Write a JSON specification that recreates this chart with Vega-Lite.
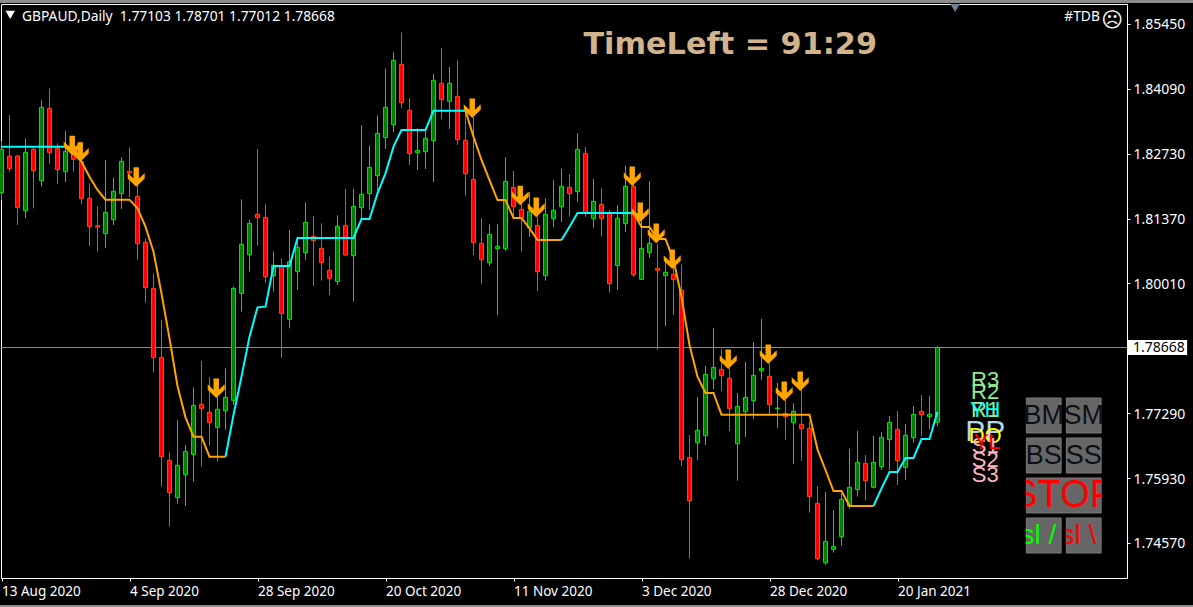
{"$schema":"https://vega.github.io/schema/vega-lite/v6.json","width":1126,"height":574,"autosize":"none","padding":{"left":1,"top":4,"right":66,"bottom":29},"background":"#000000","config":{"view":{"stroke":"#ffffff","fill":"#000000","strokeWidth":1}},
"datasets":{
"candles":[
{"i":0,"d":"2020-08-13","dir":"up","o":1.81914,"h":1.82997,"l":1.8176,"c":1.82822},
{"i":1,"d":"2020-08-14","dir":"down","o":1.82683,"h":1.83542,"l":1.82354,"c":1.82417},
{"i":2,"d":"2020-08-17","dir":"down","o":1.82683,"h":1.82704,"l":1.81236,"c":1.81606},
{"i":3,"d":"2020-08-18","dir":"up","o":1.81537,"h":1.83053,"l":1.81376,"c":1.82759},
{"i":4,"d":"2020-08-19","dir":"down","o":1.82822,"h":1.82878,"l":1.81585,"c":1.82375},
{"i":5,"d":"2020-08-20","dir":"up","o":1.82165,"h":1.83857,"l":1.8204,"c":1.83703},
{"i":6,"d":"2020-08-21","dir":"down","o":1.83682,"h":1.84101,"l":1.82515,"c":1.82752},
{"i":7,"d":"2020-08-24","dir":"down","o":1.82843,"h":1.82948,"l":1.82096,"c":1.82396},
{"i":8,"d":"2020-08-25","dir":"up","o":1.82354,"h":1.83207,"l":1.82138,"c":1.8278},
{"i":9,"d":"2020-08-26","dir":"down","o":1.82878,"h":1.82948,"l":1.82354,"c":1.82613},
{"i":10,"d":"2020-08-27","dir":"down","o":1.82564,"h":1.82599,"l":1.81676,"c":1.81788},
{"i":11,"d":"2020-08-28","dir":"down","o":1.81795,"h":1.8211,"l":1.80796,"c":1.81201},
{"i":12,"d":"2020-08-31","dir":"down","o":1.81222,"h":1.81634,"l":1.80677,"c":1.81194},
{"i":13,"d":"2020-09-01","dir":"up","o":1.81054,"h":1.82599,"l":1.80754,"c":1.81502},
{"i":14,"d":"2020-09-02","dir":"up","o":1.81348,"h":1.82235,"l":1.81236,"c":1.81942},
{"i":15,"d":"2020-09-03","dir":"up","o":1.81893,"h":1.82655,"l":1.81572,"c":1.82571},
{"i":16,"d":"2020-09-04","dir":"down","o":1.82361,"h":1.82864,"l":1.81816,"c":1.82326},
{"i":17,"d":"2020-09-07","dir":"down","o":1.81837,"h":1.82075,"l":1.80502,"c":1.80845},
{"i":18,"d":"2020-09-08","dir":"down","o":1.80873,"h":1.80957,"l":1.79608,"c":1.79922},
{"i":19,"d":"2020-09-09","dir":"down","o":1.79908,"h":1.80223,"l":1.7814,"c":1.78455},
{"i":20,"d":"2020-09-10","dir":"down","o":1.78462,"h":1.79245,"l":1.75751,"c":1.76379},
{"i":21,"d":"2020-09-11","dir":"down","o":1.76303,"h":1.7647,"l":1.74912,"c":1.75625},
{"i":22,"d":"2020-09-14","dir":"up","o":1.7552,"h":1.77148,"l":1.75394,"c":1.76198},
{"i":23,"d":"2020-09-15","dir":"up","o":1.76002,"h":1.76624,"l":1.75345,"c":1.76491},
{"i":24,"d":"2020-09-16","dir":"up","o":1.76428,"h":1.77833,"l":1.75855,"c":1.77456},
{"i":25,"d":"2020-09-17","dir":"down","o":1.77477,"h":1.78385,"l":1.7617,"c":1.77386},
{"i":26,"d":"2020-09-18","dir":"down","o":1.77309,"h":1.78043,"l":1.7661,"c":1.77092},
{"i":27,"d":"2020-09-21","dir":"up","o":1.76994,"h":1.77637,"l":1.76289,"c":1.77372},
{"i":28,"d":"2020-09-22","dir":"up","o":1.77344,"h":1.78231,"l":1.76946,"c":1.77623},
{"i":29,"d":"2020-09-23","dir":"up","o":1.7756,"h":1.79943,"l":1.77463,"c":1.79908},
{"i":30,"d":"2020-09-24","dir":"up","o":1.79803,"h":1.81774,"l":1.79419,"c":1.80831},
{"i":31,"d":"2020-09-25","dir":"up","o":1.80614,"h":1.81341,"l":1.80258,"c":1.81271},
{"i":32,"d":"2020-09-28","dir":"down","o":1.8146,"h":1.82829,"l":1.80803,"c":1.8139},
{"i":33,"d":"2020-09-29","dir":"down","o":1.81397,"h":1.81676,"l":1.80027,"c":1.80153},
{"i":34,"d":"2020-09-30","dir":"up","o":1.80174,"h":1.80684,"l":1.79838,"c":1.80391},
{"i":35,"d":"2020-10-01","dir":"down","o":1.80377,"h":1.80537,"l":1.78455,"c":1.79384},
{"i":36,"d":"2020-10-02","dir":"up","o":1.79258,"h":1.81131,"l":1.7907,"c":1.80467},
{"i":37,"d":"2020-10-05","dir":"up","o":1.80258,"h":1.80992,"l":1.79873,"c":1.80768},
{"i":38,"d":"2020-10-06","dir":"up","o":1.80656,"h":1.81711,"l":1.80502,"c":1.81292},
{"i":39,"d":"2020-10-07","dir":"down","o":1.80998,"h":1.81425,"l":1.79957,"c":1.80908},
{"i":40,"d":"2020-10-08","dir":"down","o":1.80747,"h":1.81271,"l":1.80069,"c":1.80446},
{"i":41,"d":"2020-10-09","dir":"down","o":1.80286,"h":1.80572,"l":1.79769,"c":1.80118},
{"i":42,"d":"2020-10-12","dir":"up","o":1.80048,"h":1.81439,"l":1.79978,"c":1.81208},
{"i":43,"d":"2020-10-13","dir":"down","o":1.81229,"h":1.81991,"l":1.80586,"c":1.80607},
{"i":44,"d":"2020-10-14","dir":"up","o":1.80593,"h":1.81991,"l":1.79629,"c":1.81627},
{"i":45,"d":"2020-10-15","dir":"up","o":1.81599,"h":1.83326,"l":1.81362,"c":1.81879},
{"i":46,"d":"2020-10-16","dir":"up","o":1.81893,"h":1.82906,"l":1.81551,"c":1.82445},
{"i":47,"d":"2020-10-19","dir":"up","o":1.8227,"h":1.83535,"l":1.81928,"c":1.83158},
{"i":48,"d":"2020-10-20","dir":"up","o":1.83067,"h":1.8452,"l":1.82829,"c":1.83703},
{"i":49,"d":"2020-10-21","dir":"up","o":1.83339,"h":1.84856,"l":1.83186,"c":1.84688},
{"i":50,"d":"2020-10-22","dir":"down","o":1.84604,"h":1.85275,"l":1.83689,"c":1.83801},
{"i":51,"d":"2020-10-23","dir":"down","o":1.8364,"h":1.83892,"l":1.82494,"c":1.82732},
{"i":52,"d":"2020-10-26","dir":"up","o":1.82752,"h":1.83263,"l":1.82389,"c":1.82801},
{"i":53,"d":"2020-10-27","dir":"up","o":1.82773,"h":1.83228,"l":1.8241,"c":1.83053},
{"i":54,"d":"2020-10-28","dir":"up","o":1.83004,"h":1.84402,"l":1.82138,"c":1.84269},
{"i":55,"d":"2020-10-29","dir":"down","o":1.84206,"h":1.84947,"l":1.83458,"c":1.83864},
{"i":56,"d":"2020-10-30","dir":"up","o":1.83829,"h":1.84548,"l":1.83249,"c":1.84206},
{"i":57,"d":"2020-11-02","dir":"down","o":1.83933,"h":1.84688,"l":1.82913,"c":1.83025},
{"i":58,"d":"2020-11-03","dir":"down","o":1.83011,"h":1.83633,"l":1.81851,"c":1.82312},
{"i":59,"d":"2020-11-04","dir":"down","o":1.82193,"h":1.83507,"l":1.80607,"c":1.80866},
{"i":60,"d":"2020-11-05","dir":"down","o":1.80852,"h":1.81376,"l":1.79999,"c":1.80509},
{"i":61,"d":"2020-11-06","dir":"up","o":1.80446,"h":1.8125,"l":1.80377,"c":1.8104},
{"i":62,"d":"2020-11-09","dir":"up","o":1.8074,"h":1.8125,"l":1.79349,"c":1.80789},
{"i":63,"d":"2020-11-10","dir":"up","o":1.8074,"h":1.82655,"l":1.80691,"c":1.82152},
{"i":64,"d":"2020-11-11","dir":"down","o":1.82026,"h":1.82368,"l":1.81411,"c":1.8162},
{"i":65,"d":"2020-11-12","dir":"down","o":1.81565,"h":1.8176,"l":1.80677,"c":1.8139},
{"i":66,"d":"2020-11-13","dir":"up","o":1.8118,"h":1.81921,"l":1.80992,"c":1.81523},
{"i":67,"d":"2020-11-16","dir":"down","o":1.81229,"h":1.81411,"l":1.79852,"c":1.80258},
{"i":68,"d":"2020-11-17","dir":"up","o":1.80174,"h":1.81795,"l":1.80069,"c":1.8146},
{"i":69,"d":"2020-11-18","dir":"up","o":1.81369,"h":1.82179,"l":1.81194,"c":1.81544},
{"i":70,"d":"2020-11-19","dir":"up","o":1.8162,"h":1.8241,"l":1.81299,"c":1.82047},
{"i":71,"d":"2020-11-20","dir":"down","o":1.82026,"h":1.82305,"l":1.81411,"c":1.81893},
{"i":72,"d":"2020-11-23","dir":"up","o":1.81935,"h":1.83158,"l":1.81725,"c":1.82822},
{"i":73,"d":"2020-11-24","dir":"down","o":1.82739,"h":1.82871,"l":1.81411,"c":1.81495},
{"i":74,"d":"2020-11-25","dir":"up","o":1.81369,"h":1.822,"l":1.8118,"c":1.81732},
{"i":75,"d":"2020-11-26","dir":"down","o":1.81669,"h":1.82005,"l":1.80992,"c":1.81369},
{"i":76,"d":"2020-11-27","dir":"down","o":1.81495,"h":1.81551,"l":1.79818,"c":1.80006},
{"i":77,"d":"2020-11-30","dir":"up","o":1.80384,"h":1.81648,"l":1.79873,"c":1.81376},
{"i":78,"d":"2020-12-01","dir":"up","o":1.81264,"h":1.82473,"l":1.81089,"c":1.82047},
{"i":79,"d":"2020-12-02","dir":"down","o":1.82047,"h":1.82249,"l":1.80146,"c":1.80195},
{"i":80,"d":"2020-12-03","dir":"up","o":1.80097,"h":1.81341,"l":1.80083,"c":1.80747},
{"i":81,"d":"2020-12-04","dir":"up","o":1.80663,"h":1.82152,"l":1.80544,"c":1.80852},
{"i":82,"d":"2020-12-07","dir":"down","o":1.80328,"h":1.80838,"l":1.78616,"c":1.80286},
{"i":83,"d":"2020-12-08","dir":"up","o":1.80174,"h":1.80467,"l":1.79119,"c":1.80244},
{"i":84,"d":"2020-12-09","dir":"down","o":1.80202,"h":1.80432,"l":1.79349,"c":1.8009},
{"i":85,"d":"2020-12-10","dir":"down","o":1.79866,"h":1.80411,"l":1.76191,"c":1.76317},
{"i":86,"d":"2020-12-11","dir":"down","o":1.76365,"h":1.76834,"l":1.74241,"c":1.75457},
{"i":87,"d":"2020-12-14","dir":"up","o":1.76673,"h":1.7763,"l":1.7631,"c":1.76932},
{"i":88,"d":"2020-12-15","dir":"up","o":1.7682,"h":1.7828,"l":1.76624,"c":1.78105},
{"i":89,"d":"2020-12-16","dir":"up","o":1.78015,"h":1.79077,"l":1.77791,"c":1.78252},
{"i":90,"d":"2020-12-17","dir":"down","o":1.7821,"h":1.7863,"l":1.77756,"c":1.78078},
{"i":91,"d":"2020-12-18","dir":"down","o":1.78022,"h":1.78231,"l":1.76918,"c":1.77386},
{"i":92,"d":"2020-12-21","dir":"up","o":1.76652,"h":1.77714,"l":1.75876,"c":1.77435},
{"i":93,"d":"2020-12-22","dir":"up","o":1.77323,"h":1.78364,"l":1.76792,"c":1.77623},
{"i":94,"d":"2020-12-23","dir":"up","o":1.77553,"h":1.78783,"l":1.77169,"c":1.78084},
{"i":95,"d":"2020-12-24","dir":"up","o":1.78182,"h":1.79266,"l":1.77987,"c":1.78231},
{"i":96,"d":"2020-12-28","dir":"down","o":1.78064,"h":1.78336,"l":1.77253,"c":1.7747},
{"i":97,"d":"2020-12-29","dir":"up","o":1.77386,"h":1.77924,"l":1.7698,"c":1.774},
{"i":98,"d":"2020-12-30","dir":"down","o":1.77288,"h":1.77567,"l":1.76729,"c":1.77218},
{"i":99,"d":"2020-12-31","dir":"up","o":1.77092,"h":1.77498,"l":1.76226,"c":1.7733},
{"i":100,"d":"2021-01-04","dir":"down","o":1.77057,"h":1.77777,"l":1.76289,"c":1.76966},
{"i":101,"d":"2021-01-05","dir":"down","o":1.76973,"h":1.77113,"l":1.75205,"c":1.75541},
{"i":102,"d":"2021-01-06","dir":"down","o":1.75401,"h":1.75765,"l":1.74213,"c":1.74241},
{"i":103,"d":"2021-01-07","dir":"up","o":1.74157,"h":1.75639,"l":1.74115,"c":1.74604},
{"i":104,"d":"2021-01-08","dir":"up","o":1.74437,"h":1.75261,"l":1.74367,"c":1.745},
{"i":105,"d":"2021-01-11","dir":"up","o":1.74702,"h":1.75611,"l":1.74514,"c":1.75485},
{"i":106,"d":"2021-01-12","dir":"up","o":1.75345,"h":1.7654,"l":1.75289,"c":1.75737},
{"i":107,"d":"2021-01-13","dir":"up","o":1.75688,"h":1.76918,"l":1.75541,"c":1.76261},
{"i":108,"d":"2021-01-14","dir":"down","o":1.7624,"h":1.76414,"l":1.75457,"c":1.75876},
{"i":109,"d":"2021-01-15","dir":"up","o":1.75737,"h":1.76813,"l":1.75716,"c":1.76261},
{"i":110,"d":"2021-01-18","dir":"up","o":1.7617,"h":1.7689,"l":1.761,"c":1.76785},
{"i":111,"d":"2021-01-19","dir":"up","o":1.76736,"h":1.77232,"l":1.761,"c":1.77099},
{"i":112,"d":"2021-01-20","dir":"down","o":1.76953,"h":1.77337,"l":1.75785,"c":1.76296},
{"i":113,"d":"2021-01-21","dir":"up","o":1.76156,"h":1.77064,"l":1.7589,"c":1.76827},
{"i":114,"d":"2021-01-22","dir":"up","o":1.76778,"h":1.77442,"l":1.76673,"c":1.77267},
{"i":115,"d":"2021-01-25","dir":"down","o":1.7733,"h":1.77672,"l":1.76813,"c":1.7726},
{"i":116,"d":"2021-01-26","dir":"up","o":1.77218,"h":1.77651,"l":1.76953,"c":1.77267},
{"i":117,"d":"2021-01-27","dir":"up","o":1.77103,"h":1.78701,"l":1.77012,"c":1.78668}],
"signal":[
{"i":0,"v":1.82878,"seg":1,"trend":"rising"},{"i":9,"v":1.82878,"seg":1,"trend":"rising"},
{"i":9,"v":1.82878,"seg":2,"trend":"falling"},{"i":10,"v":1.82564,"seg":2,"trend":"falling"},{"i":11,"v":1.82249,"seg":2,"trend":"falling"},{"i":12,"v":1.8197,"seg":2,"trend":"falling"},{"i":13,"v":1.81767,"seg":2,"trend":"falling"},{"i":14,"v":1.81767,"seg":2,"trend":"falling"},{"i":15,"v":1.81767,"seg":2,"trend":"falling"},{"i":16,"v":1.81767,"seg":2,"trend":"falling"},{"i":17,"v":1.81585,"seg":2,"trend":"falling"},{"i":18,"v":1.81201,"seg":2,"trend":"falling"},{"i":19,"v":1.80677,"seg":2,"trend":"falling"},{"i":20,"v":1.79803,"seg":2,"trend":"falling"},{"i":21,"v":1.7886,"seg":2,"trend":"falling"},{"i":22,"v":1.77861,"seg":2,"trend":"falling"},{"i":23,"v":1.77204,"seg":2,"trend":"falling"},{"i":24,"v":1.76799,"seg":2,"trend":"falling"},{"i":25,"v":1.76799,"seg":2,"trend":"falling"},{"i":26,"v":1.76379,"seg":2,"trend":"falling"},{"i":27,"v":1.76379,"seg":2,"trend":"falling"},{"i":28,"v":1.76379,"seg":2,"trend":"falling"},
{"i":28,"v":1.76379,"seg":3,"trend":"rising"},{"i":29,"v":1.77253,"seg":3,"trend":"rising"},{"i":30,"v":1.78057,"seg":3,"trend":"rising"},{"i":31,"v":1.78895,"seg":3,"trend":"rising"},{"i":32,"v":1.7951,"seg":3,"trend":"rising"},{"i":33,"v":1.79524,"seg":3,"trend":"rising"},{"i":34,"v":1.80377,"seg":3,"trend":"rising"},{"i":35,"v":1.80377,"seg":3,"trend":"rising"},{"i":36,"v":1.80377,"seg":3,"trend":"rising"},{"i":37,"v":1.80964,"seg":3,"trend":"rising"},{"i":38,"v":1.80964,"seg":3,"trend":"rising"},{"i":44,"v":1.80964,"seg":3,"trend":"rising"},{"i":45,"v":1.81362,"seg":3,"trend":"rising"},{"i":46,"v":1.81362,"seg":3,"trend":"rising"},{"i":47,"v":1.819,"seg":3,"trend":"rising"},{"i":48,"v":1.82319,"seg":3,"trend":"rising"},{"i":49,"v":1.82878,"seg":3,"trend":"rising"},{"i":50,"v":1.83228,"seg":3,"trend":"rising"},{"i":51,"v":1.83228,"seg":3,"trend":"rising"},{"i":52,"v":1.83228,"seg":3,"trend":"rising"},{"i":53,"v":1.83228,"seg":3,"trend":"rising"},{"i":54,"v":1.83633,"seg":3,"trend":"rising"},{"i":58,"v":1.83633,"seg":3,"trend":"rising"},
{"i":58,"v":1.83633,"seg":4,"trend":"falling"},{"i":59,"v":1.83088,"seg":4,"trend":"falling"},{"i":60,"v":1.82599,"seg":4,"trend":"falling"},{"i":61,"v":1.82179,"seg":4,"trend":"falling"},{"i":62,"v":1.8176,"seg":4,"trend":"falling"},{"i":63,"v":1.8176,"seg":4,"trend":"falling"},{"i":64,"v":1.81383,"seg":4,"trend":"falling"},{"i":65,"v":1.81383,"seg":4,"trend":"falling"},{"i":66,"v":1.81166,"seg":4,"trend":"falling"},{"i":67,"v":1.80922,"seg":4,"trend":"falling"},{"i":68,"v":1.80922,"seg":4,"trend":"falling"},{"i":69,"v":1.80922,"seg":4,"trend":"falling"},{"i":70,"v":1.80922,"seg":4,"trend":"falling"},
{"i":70,"v":1.80922,"seg":5,"trend":"rising"},{"i":71,"v":1.81201,"seg":5,"trend":"rising"},{"i":72,"v":1.81488,"seg":5,"trend":"rising"},{"i":79,"v":1.81488,"seg":5,"trend":"rising"},
{"i":79,"v":1.81488,"seg":6,"trend":"falling"},{"i":80,"v":1.81194,"seg":6,"trend":"falling"},{"i":81,"v":1.81194,"seg":6,"trend":"falling"},{"i":82,"v":1.80943,"seg":6,"trend":"falling"},{"i":83,"v":1.80943,"seg":6,"trend":"falling"},{"i":84,"v":1.80502,"seg":6,"trend":"falling"},{"i":85,"v":1.79734,"seg":6,"trend":"falling"},{"i":86,"v":1.7872,"seg":6,"trend":"falling"},{"i":87,"v":1.78057,"seg":6,"trend":"falling"},{"i":88,"v":1.77714,"seg":6,"trend":"falling"},{"i":89,"v":1.77714,"seg":6,"trend":"falling"},{"i":90,"v":1.7726,"seg":6,"trend":"falling"},{"i":101,"v":1.7726,"seg":6,"trend":"falling"},{"i":102,"v":1.76533,"seg":6,"trend":"falling"},{"i":103,"v":1.761,"seg":6,"trend":"falling"},{"i":104,"v":1.7566,"seg":6,"trend":"falling"},{"i":105,"v":1.7566,"seg":6,"trend":"falling"},{"i":106,"v":1.75345,"seg":6,"trend":"falling"},{"i":109,"v":1.75345,"seg":6,"trend":"falling"},
{"i":109,"v":1.75345,"seg":7,"trend":"rising"},{"i":110,"v":1.75716,"seg":7,"trend":"rising"},{"i":111,"v":1.76058,"seg":7,"trend":"rising"},{"i":112,"v":1.76058,"seg":7,"trend":"rising"},{"i":113,"v":1.76352,"seg":7,"trend":"rising"},{"i":114,"v":1.76352,"seg":7,"trend":"rising"},{"i":115,"v":1.7675,"seg":7,"trend":"rising"},{"i":116,"v":1.7675,"seg":7,"trend":"rising"},{"i":117,"v":1.77323,"seg":7,"trend":"rising"}],
"arrows":[{"i":8.84,"p":1.82903},{"i":9.84,"p":1.82766},{"i":16.84,"p":1.82242},{"i":26.84,"p":1.77812},{"i":58.84,"p":1.83682},{"i":64.84,"p":1.81855},{"i":66.84,"p":1.81606},{"i":78.84,"p":1.82256},{"i":79.84,"p":1.81502},{"i":81.84,"p":1.81061},{"i":83.84,"p":1.80516},{"i":90.84,"p":1.7842},{"i":95.84,"p":1.78525},{"i":97.84,"p":1.77749},{"i":99.84,"p":1.77959}],
"pivots":[{"t":"R3","i":122.96,"p":1.77997},{"t":"R2","i":122.96,"p":1.77725},{"t":"R1","i":122.96,"p":1.77358},{"t":"YH","i":122.96,"p":1.77358},{"t":"PP","i":122.96,"p":1.76907},{"t":"DO","i":122.96,"p":1.76823},{"t":"S1","i":122.96,"p":1.76603},{"t":"YL","i":123.2,"p":1.76677},{"t":"S2","i":122.96,"p":1.7632},{"t":"S3","i":122.96,"p":1.75985}],
"buttons":[{"x0":128.09,"x1":132.46,"p0":1.77609,"p1":1.76876},{"x0":133.09,"x1":137.46,"p0":1.77609,"p1":1.76876},{"x0":128.09,"x1":132.46,"p0":1.76771,"p1":1.76037},{"x0":133.09,"x1":137.46,"p0":1.76771,"p1":1.76037},{"x0":128.09,"x1":137.46,"p0":1.75932,"p1":1.75199},{"x0":128.09,"x1":132.46,"p0":1.75094,"p1":1.7436},{"x0":133.09,"x1":137.46,"p0":1.75094,"p1":1.7436}],
"buttonLabels":[{"t":"BM","i":130.27,"p":1.77222},{"t":"SM","i":135.27,"p":1.77222},{"t":"BS","i":130.27,"p":1.76384},{"t":"SS","i":135.27,"p":1.76384},{"t":"STOP","i":132.77,"p":1.75546},{"t":"sl /","i":129.6,"p":1.74707},{"t":"sl \\","i":134.6,"p":1.74707}],
"masks":[{"x0":126.2,"x1":128.0,"p0":1.777,"p1":1.743},{"x0":137.55,"x1":139.4,"p0":1.777,"p1":1.743},{"x0":132.55,"x1":133.0,"p0":1.777,"p1":1.76},{"x0":132.55,"x1":133.0,"p0":1.7512,"p1":1.743}]
},
"layer":[
{"data":{"values":[{"x0":-0.2,"x1":149.4,"p0":1.85953,"p1":1.8589},{"x0":-0.2,"x1":149.4,"p0":1.7327,"p1":1.73228}]},"mark":{"type":"rect","color":"#8c8c8c"},"encoding":{"x":{"field":"x0","type":"quantitative","scale":{"domain":[-0.0625,140.6875],"nice":false,"zero":false,"padding":0},"axis":{"title":null,"values":[0,16,32,48,64,80,96,112],"labelExpr":"{'0':'13 Aug 2020','16':'4 Sep 2020','32':'28 Sep 2020','48':'20 Oct 2020','64':'11 Nov 2020','80':'3 Dec 2020','96':'28 Dec 2020','112':'20 Jan 2021'}[''+datum.value]","labelAlign":"left","labelColor":"#ffffff","labelFont":"Noto Sans","labelFontSize":13.5,"labelPadding":3,"tickColor":"#ffffff","tickSize":3,"domain":false,"grid":false,"labelFlush":false,"labelOverlap":false,"labelBound":false}},"x2":{"field":"x1"},"y":{"field":"p0","type":"quantitative","scale":{"domain":[1.73836,1.85869],"nice":false,"zero":false,"padding":0},"axis":{"title":null,"orient":"right","values":[1.8545,1.8409,1.8273,1.8137,1.8001,1.7729,1.7593,1.7457],"format":".5f","labelColor":"#ffffff","labelFont":"Noto Sans","labelFontSize":14,"labelPadding":3,"labelOffset":1,"tickColor":"#ffffff","tickSize":3,"domain":false,"grid":false,"labelOverlap":false,"labelBound":false,"labelFlush":false}},"y2":{"field":"p1"}}},
{"data":{"values":[{"p":1.78668}]},"mark":{"type":"rule","color":"#8c8c8c","strokeWidth":1},"encoding":{"y":{"field":"p","type":"quantitative"}}},
{"data":{"name":"candles"},"mark":{"type":"rule","strokeWidth":1},"encoding":{"x":{"field":"i","type":"quantitative"},"y":{"field":"l","type":"quantitative"},"y2":{"field":"h"},"color":{"field":"dir","type":"nominal","legend":null,"scale":{"domain":["up","down","rising","falling","R3","R2","R1","YH","PP","DO","YL","S1","S2","S3","BM","SM","BS","SS","STOP","sl /","sl \\"],"range":["#00e600","#ff4500","#00ffff","#ffa500","#90ee90","#90ee90","#90ee90","#00ffff","#add8e6","#ffff00","#ff0000","#ffb6c1","#ffb6c1","#ffb6c1","#0c1014","#0c1014","#0c1014","#0c1014","#ff0000","#00ff00","#ff0000"]}}}},
{"data":{"name":"candles"},"mark":{"type":"bar","width":4,"strokeWidth":1},"encoding":{"x":{"field":"i","type":"quantitative"},"y":{"field":"o","type":"quantitative"},"y2":{"field":"c"},"fill":{"field":"dir","type":"nominal","legend":null,"scale":{"domain":["up","down"],"range":["#008000","#ff0000"]}},"stroke":{"field":"dir","type":"nominal","legend":null,"scale":{"domain":["up","down"],"range":["#00e600","#ff4500"]}}}},
{"data":{"name":"signal"},"mark":{"type":"line","strokeWidth":2},"encoding":{"x":{"field":"i","type":"quantitative"},"y":{"field":"v","type":"quantitative"},"detail":{"field":"seg"},"color":{"field":"trend","type":"nominal","legend":null}}},
{"data":{"name":"arrows"},"mark":{"type":"point","filled":true,"color":"#ffa500","opacity":1,"size":289,"shape":"M-.32,-1.15 L.32,-1.15 L.32,.18 L1,-.48 L1,.16 L0,1.15 L-1,.16 L-1,-.48 L-.32,.18 Z"},"encoding":{"x":{"field":"i","type":"quantitative"},"y":{"field":"p","type":"quantitative"}}},
{"data":{"values":[{"i":1.09,"p":1.85639},{"i":119.2,"p":1.85785}]},"mark":{"type":"point","filled":true,"opacity":1,"shape":"triangle-down","size":90},"encoding":{"x":{"field":"i","type":"quantitative"},"y":{"field":"p","type":"quantitative"},"color":{"condition":{"test":"datum.i<10","value":"#ffffff"},"value":"#708090"}}},
{"data":{"values":[{"t":"GBPAUD,Daily\u00a0 1.77103 1.78701 1.77012 1.78668","i":2.55,"p":1.85597},{"t":"#TDB","i":132.84,"p":1.85597}]},"mark":{"type":"text","align":"left","baseline":"middle","font":"Noto Sans","fontSize":13.8,"color":"#ffffff"},"encoding":{"x":{"field":"i","type":"quantitative"},"y":{"field":"p","type":"quantitative"},"text":{"field":"t"}}},
{"data":{"values":[{"t":"☹","i":138.84,"p":1.85513}]},"mark":{"type":"text","align":"center","baseline":"middle","font":"DejaVu Sans","fontSize":21,"color":"#ffffff"},"encoding":{"x":{"field":"i","type":"quantitative"},"y":{"field":"p","type":"quantitative"},"text":{"field":"t"}}},
{"data":{"values":[{"t":"TimeLeft = 91:29","i":91.09,"p":1.8501}]},"mark":{"type":"text","align":"center","baseline":"middle","font":"DejaVu Sans","fontWeight":"bold","fontSize":30.3,"color":"#d2b48c"},"encoding":{"x":{"field":"i","type":"quantitative"},"y":{"field":"p","type":"quantitative"},"text":{"field":"t"}}},
{"data":{"name":"pivots"},"mark":{"type":"text","align":"center","baseline":"middle","font":"Liberation Sans"},"encoding":{"x":{"field":"i","type":"quantitative"},"y":{"field":"p","type":"quantitative"},"text":{"field":"t"},"size":{"condition":{"test":"datum.t==='PP'","value":30},"value":22},"color":{"field":"t","type":"nominal","legend":null}}},
{"data":{"name":"buttons"},"mark":{"type":"rect","fill":"#666666","stroke":"#7c7c7c","strokeWidth":1},"encoding":{"x":{"field":"x0","type":"quantitative"},"x2":{"field":"x1"},"y":{"field":"p0","type":"quantitative"},"y2":{"field":"p1"}}},
{"data":{"name":"buttonLabels"},"mark":{"type":"text","align":"center","baseline":"middle","font":"Liberation Sans"},"encoding":{"x":{"field":"i","type":"quantitative"},"y":{"field":"p","type":"quantitative"},"text":{"field":"t"},"size":{"condition":[{"test":"datum.t==='STOP'","value":38},{"test":"indexof(datum.t,'sl')===0","value":28}],"value":27},"color":{"field":"t","type":"nominal","legend":null}}},
{"data":{"name":"masks"},"mark":{"type":"rect","fill":"#000000"},"encoding":{"x":{"field":"x0","type":"quantitative"},"x2":{"field":"x1"},"y":{"field":"p0","type":"quantitative"},"y2":{"field":"p1"}}},
{"data":{"values":[{"x0":140.8,"x1":148.2,"p0":1.78825,"p1":1.78511}]},"mark":{"type":"rect","fill":"#ffffff"},"encoding":{"x":{"field":"x0","type":"quantitative"},"x2":{"field":"x1"},"y":{"field":"p0","type":"quantitative"},"y2":{"field":"p1"}}},
{"data":{"values":[{"t":"1.78668","i":141.44,"p":1.78648}]},"mark":{"type":"text","align":"left","baseline":"middle","font":"Noto Sans","fontSize":14,"color":"#000000"},"encoding":{"x":{"field":"i","type":"quantitative"},"y":{"field":"p","type":"quantitative"},"text":{"field":"t"}}}
]}
